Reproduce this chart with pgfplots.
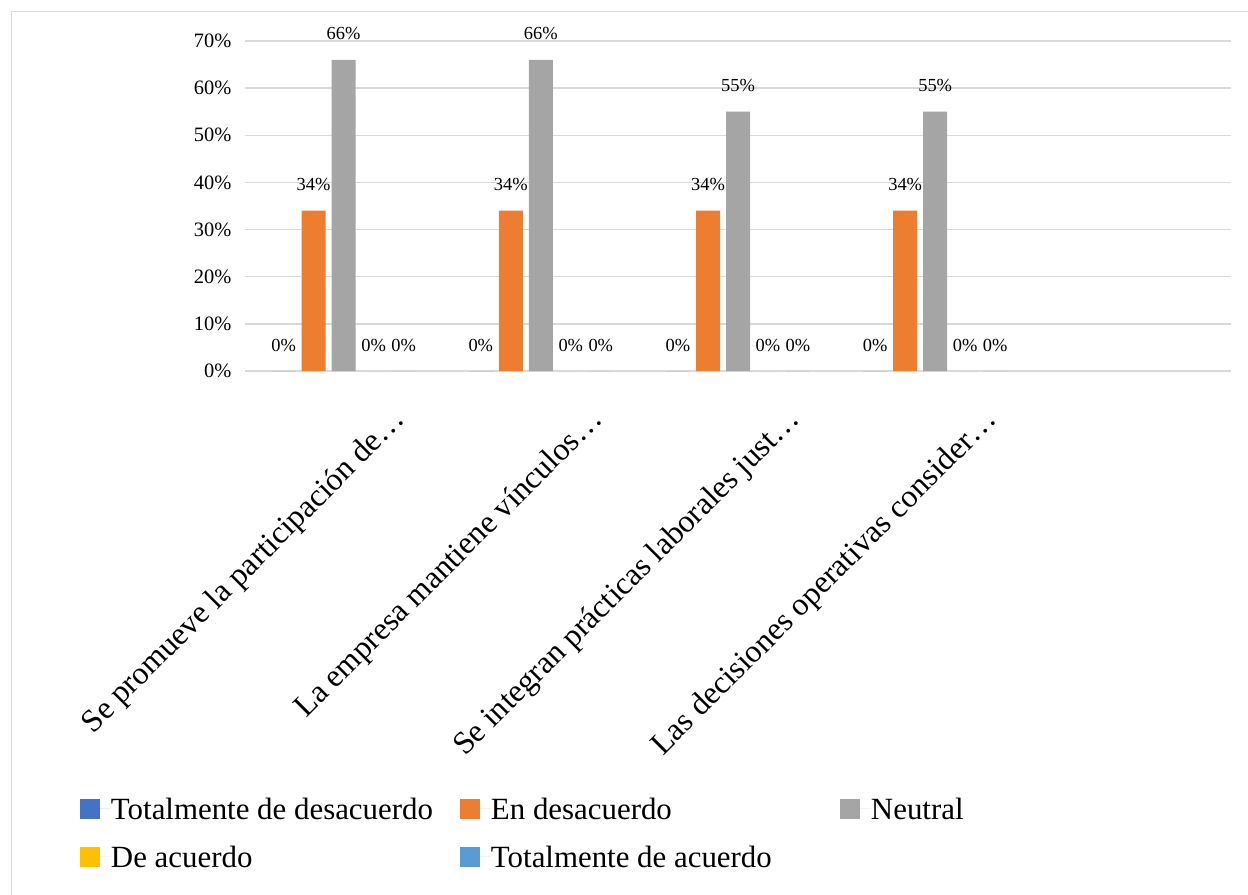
\documentclass[border=0pt]{standalone}
\usepackage{pgfplots}
\pgfplotsset{compat=1.18}
\usepackage{fontspec}
\setmainfont{Liberation Serif}
\definecolor{cA}{HTML}{4472C4}
\definecolor{cB}{HTML}{ED7D31}
\definecolor{cC}{HTML}{A5A5A5}
\definecolor{cD}{HTML}{FFC000}
\definecolor{cE}{HTML}{5B9BD5}
\definecolor{gridc}{HTML}{D9D9D9}
\begin{document}
\begin{tikzpicture}
\path[use as bounding box] (0,0) rectangle (1248bp,895bp);
\draw[color=gridc, line width=1.5bp] (11.5bp,-20bp) -- (11.5bp,883.5bp) -- (1270bp,883.5bp);
\begin{axis}[
  at={(245bp,524bp)}, anchor=south west,
  scale only axis, width=986bp, height=330bp,
  xmin=-0.5, xmax=4.5, ymin=0, ymax=70,
  xtick={0,1,2,3},
  xticklabels={Se promueve la participación de…, La empresa mantiene vínculos…, Se integran prácticas laborales just…, Las decisiones operativas consider…},
  ytick={0,10,20,30,40,50,60,70},
  yticklabel={\pgfmathprintnumber{\tick}\%},
  /pgf/number format/assume math mode=true,
  ymajorgrids, grid style={draw=gridc, line width=1.3bp},
  axis line style={draw=none}, major tick length=0pt,
  yticklabel style={font=\fontsize{20.5}{24}\selectfont, anchor=east, inner sep=0pt, xshift=-13.5bp},
  xticklabel style={font=\fontsize{32}{38}\selectfont, inner sep=0pt, xshift=63bp, yshift=-50bp, rotate=45, anchor=base east},
  clip=false,
  nodes near coords={\pgfmathprintnumber{\pgfplotspointmeta}\%},
  every node near coord/.append style={font=\fontsize{18.5}{22}\selectfont, inner sep=0pt, anchor=south, yshift=19.5bp, text=black},
  mybar/.style={ybar, bar width=24bp, draw=none, fill=#1,
    legend image code/.code={\fill[##1, draw=none] (0bp,-10bp) rectangle (20bp,10bp); \path (0bp,0bp) -- (31bp,0bp);}},
  legend columns=3,
  legend style={at={(-0.16734,-1.29394)}, anchor=north west, draw=none, fill=none,
    inner sep=0pt, outer sep=0pt, column sep=0pt, row sep=26.6bp,
    font=\fontsize{31}{37}\selectfont,
    nodes={inner sep=0pt, text depth=0pt}, cells={anchor=west}},
]
\addplot[mybar=cA, bar shift=-60bp, every node near coord/.append style={xshift=-60bp}] coordinates {(0,0) (1,0) (2,0) (3,0)};
\addlegendentry{\makebox[349bp][l]{Totalmente de desacuerdo}}
\addplot[mybar=cB, bar shift=-30bp, every node near coord/.append style={xshift=-30bp}] coordinates {(0,34) (1,34) (2,34) (3,34)};
\addlegendentry{\makebox[349bp][l]{En desacuerdo}}
\addplot[mybar=cC, bar shift=0bp] coordinates {(0,66) (1,66) (2,55) (3,55)};
\addlegendentry{\makebox[349bp][l]{Neutral}}
\addplot[mybar=cD, bar shift=30bp, every node near coord/.append style={xshift=30bp}] coordinates {(0,0) (1,0) (2,0) (3,0)};
\addlegendentry{\makebox[349bp][l]{De acuerdo}}
\addplot[mybar=cE, bar shift=60bp, every node near coord/.append style={xshift=60bp}] coordinates {(0,0) (1,0) (2,0) (3,0)};
\addlegendentry{\makebox[349bp][l]{Totalmente de acuerdo}}
\end{axis}
\end{tikzpicture}
\end{document}
